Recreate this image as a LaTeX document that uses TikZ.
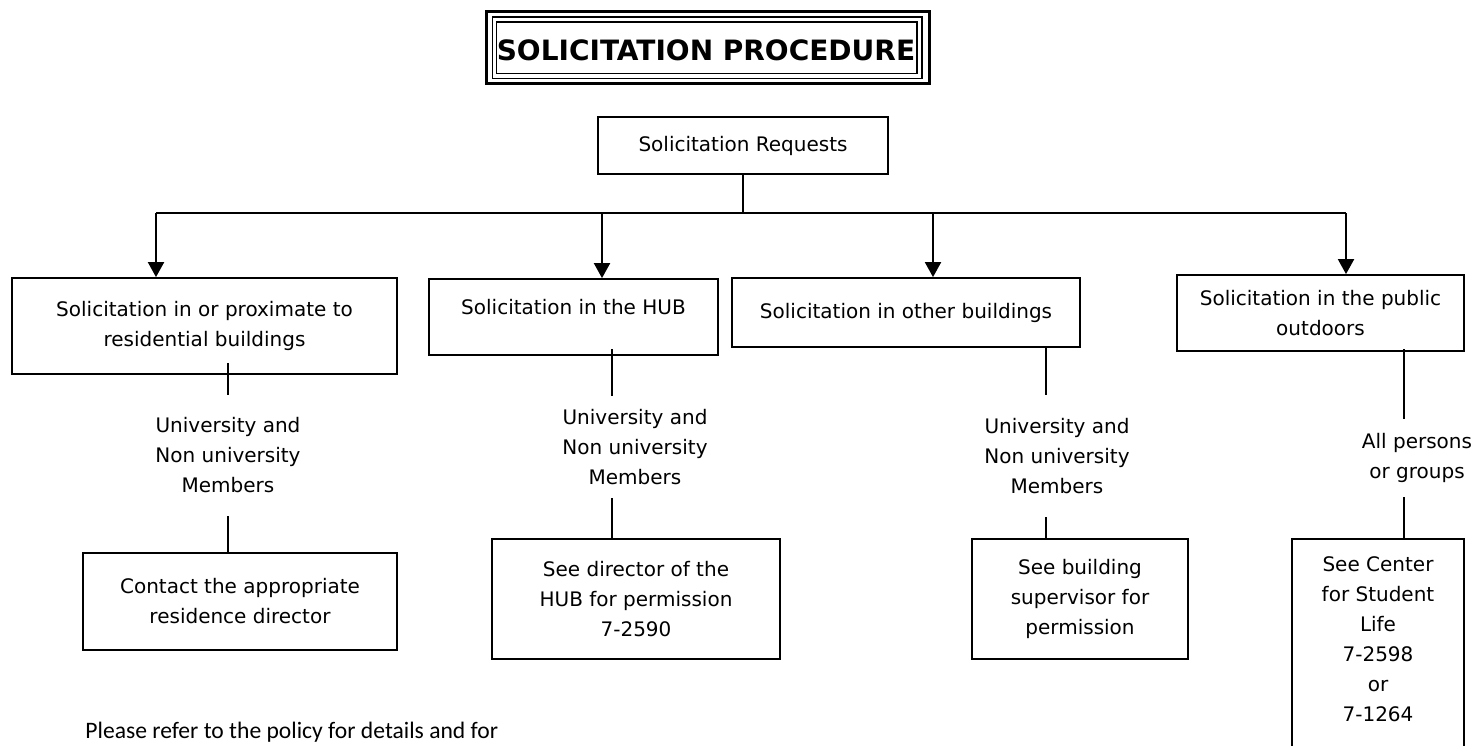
\documentclass[tikz,border=0pt]{standalone}
\usepackage{fontspec}
\setmainfont{DejaVu Sans}
\newfontfamily\notefont{Carlito}
\usetikzlibrary{arrows.meta}
\usetikzlibrary{positioning}

\begin{document}
\begin{tikzpicture}[x=0.5pt,y=-0.5pt]
     \tikzstyle{box_style} = [rectangle,draw=black,line width=0.9pt,align=center,inner sep=0pt,font=\fontsize{10}{15}\selectfont]
     \tikzstyle{who_style} = [align=center,inner sep=0pt,font=\fontsize{10}{15}\selectfont]
     \tikzstyle{edge_style} = [draw=black,line width=1pt]
     \tikzstyle{arrow_style} = [edge_style,-{Triangle[width=8pt,length=7.5pt]}]
     \useasboundingbox (0,0) rectangle (1475,745);
     % title with its triple frame
     \draw[line width=1.5pt] (486.5,11.5) rectangle (929.5,83.5);
     \draw[line width=0.8pt] (492.5,17) rectangle (922,78.5);
     \draw[line width=0.8pt] (496.5,22) rectangle (917,73.5);
     \node[font=\fontsize{14}{16}\selectfont\bfseries] (title) at (706,50) {SOLICITATION PROCEDURE};
     % boxes
     \node[box_style,minimum width=145pt,minimum height=28.5pt] (req) at (743,145.5) {Solicitation Requests};
     \node[box_style,minimum width=192.5pt,minimum height=48pt] (s1) at (204.5,326) {Solicitation in or proximate to\\residential buildings};
     \node[box_style,minimum width=144.5pt,minimum height=38pt] (s2) at (573.5,317) {Solicitation in the HUB\\[-5pt]~};
     \node[box_style,minimum width=174pt,minimum height=34.5pt] (s3) at (906,312.5) {Solicitation in other buildings};
     \node[box_style,minimum width=143.5pt,minimum height=38pt] (s4) at (1320.5,313) {Solicitation in the public\\outdoors};
     \node[who_style,minimum height=60.5pt] (w1) at (228,455.5) {University and\\Non university\\Members};
     \node[who_style,minimum height=51pt] (w2) at (635,447) {University and\\Non university\\Members};
     \node[who_style,minimum height=61pt] (w3) at (1057,456) {University and\\Non university\\Members};
     \node[who_style,minimum height=39pt] (w4) at (1417,458) {All persons\\or groups};
     \node[box_style,minimum width=157pt,minimum height=48.5pt] (p1) at (240,601.5) {Contact the appropriate\\residence director};
     \node[box_style,minimum width=144pt,minimum height=60pt] (p2) at (636,599) {See director of the\\HUB for permission\\7-2590};
     \node[box_style,minimum width=108pt,minimum height=60pt] (p3) at (1080,599) {See building\\supervisor for\\permission};
     \node[box_style,minimum width=86pt,minimum height=115.5pt] (p4) at (1378,654.5) {See Center\\for Student\\Life\\7-2598\\or\\7-1264\\~};
     \node[anchor=base west,inner sep=0pt,font=\notefont\fontsize{11.8}{13}\selectfont] (note) at (85,738) {Please refer to the policy for details and for};
     % bus and columns
     \coordinate (j1) at (156,213);
     \coordinate (j2) at (602,213);
     \coordinate (j3) at (933,213);
     \coordinate (j4) at (1346,213);
     \coordinate (k1) at (228,0);
     \coordinate (k2) at (612,0);
     \coordinate (k3) at (1046,0);
     \coordinate (k4) at (1404,0);
     \draw[edge_style]  (req.south) -- (req.south |- j1);
     \draw[edge_style]  (j1) -- (j4);
     \draw[arrow_style] (j1) -- (j1 |- s1.north);
     \draw[arrow_style] (j2) -- (j2 |- s2.north);
     \draw[arrow_style] (j3) -- (j3 |- s3.north);
     \draw[arrow_style] (j4) -- (j4 |- s4.north);
     \draw[edge_style,shorten <=-6pt]   (s1.south -| k1) -- (w1.north -| k1);
     \draw[edge_style]  (w1.south -| k1) -- (p1.north -| k1);
     \draw[edge_style,shorten <=-3.5pt] (s2.south -| k2) -- (w2.north -| k2);
     \draw[edge_style]  (w2.south -| k2) -- (p2.north -| k2);
     \draw[edge_style]  (s3.south -| k3) -- (w3.north -| k3);
     \draw[edge_style]  (w3.south -| k3) -- (p3.north -| k3);
     \draw[edge_style,shorten <=-1.5pt] (s4.south -| k4) -- (w4.north -| k4);
     \draw[edge_style]  (w4.south -| k4) -- (p4.north -| k4);
\end{tikzpicture}
\end{document}
